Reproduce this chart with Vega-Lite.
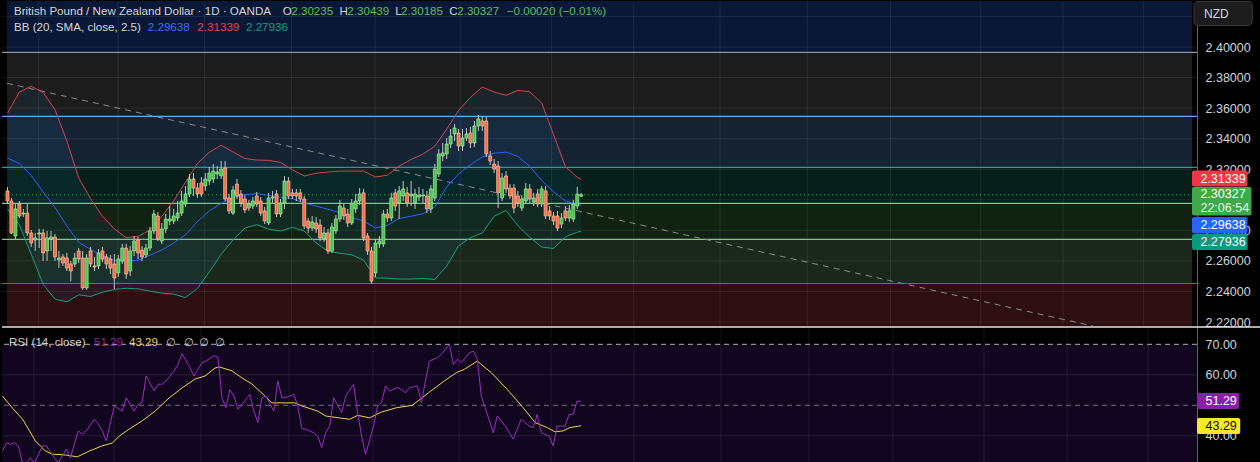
{
"$schema":"https://vega.github.io/schema/vega-lite/v6.json",
"background":"#000000",
"padding":0,
"spacing":0,
"bounds":"flush",
"config":{"view":{"stroke":null}},
"datasets":{
"zones":[{"zone":"z1","lo":2.39652,"hi":2.44},{"zone":"z2","lo":2.35464,"hi":2.39652},{"zone":"z3","lo":2.32126,"hi":2.35464},{"zone":"z4","lo":2.2977,"hi":2.32126},{"zone":"z5","lo":2.27413,"hi":2.2977},{"zone":"z6","lo":2.2452,"hi":2.27413},{"zone":"z7","lo":2.2174,"hi":2.2452}],
"zlines":[{"name":"l1","v":2.39652},{"name":"l2","v":2.35464},{"name":"l3","v":2.32126},{"name":"l4","v":2.2977},{"name":"l5","v":2.27413},{"name":"l6","v":2.2452}],
"vgrid":[{"i":7.89},{"i":27.95},{"i":49.75},{"i":71.8},{"i":92.86},{"i":114.41},{"i":137.47},{"i":158.27},{"i":180.08},{"i":202.13},{"i":223.18},{"i":245.99},{"i":266.79},{"i":287.09}],
"hgrid":[{"v":2.22},{"v":2.24},{"v":2.26},{"v":2.28},{"v":2.30},{"v":2.32},{"v":2.34},{"v":2.36},{"v":2.38},{"v":2.40},{"v":2.42}],
"rgrid":[{"v":40},{"v":60}],
"trend":[{"i":-0.125,"v":2.37623},{"i":274.3,"v":2.21739}],
"candles":[
{"i":0,"o":2.3058,"h":2.3084,"l":2.2972,"c":2.2992},
{"i":1,"o":2.2992,"h":2.3012,"l":2.2776,"c":2.2783},
{"i":2,"o":2.2763,"h":2.2972,"l":2.2743,"c":2.2940},
{"i":3,"o":2.2972,"h":2.2992,"l":2.2881,"c":2.2894},
{"i":4,"o":2.2907,"h":2.2940,"l":2.2887,"c":2.2913},
{"i":5,"o":2.2913,"h":2.2972,"l":2.2763,"c":2.2783},
{"i":6,"o":2.2783,"h":2.2802,"l":2.2691,"c":2.2717},
{"i":7,"o":2.2737,"h":2.2783,"l":2.2665,"c":2.2750},
{"i":8,"o":2.2776,"h":2.2809,"l":2.2684,"c":2.2783},
{"i":9,"o":2.2783,"h":2.2809,"l":2.2599,"c":2.2652},
{"i":10,"o":2.2665,"h":2.2796,"l":2.2599,"c":2.2750},
{"i":11,"o":2.2743,"h":2.2796,"l":2.2665,"c":2.2756},
{"i":12,"o":2.2756,"h":2.2776,"l":2.2599,"c":2.2626},
{"i":13,"o":2.2606,"h":2.2665,"l":2.2553,"c":2.2619},
{"i":14,"o":2.2626,"h":2.2645,"l":2.2567,"c":2.2586},
{"i":15,"o":2.2619,"h":2.2652,"l":2.2534,"c":2.2553},
{"i":16,"o":2.2580,"h":2.2599,"l":2.2468,"c":2.2534},
{"i":17,"o":2.2580,"h":2.2652,"l":2.2560,"c":2.2619},
{"i":18,"o":2.2665,"h":2.2684,"l":2.2586,"c":2.2612},
{"i":19,"o":2.2619,"h":2.2665,"l":2.2410,"c":2.2423},
{"i":20,"o":2.2423,"h":2.2645,"l":2.2410,"c":2.2619},
{"i":21,"o":2.2665,"h":2.2691,"l":2.2560,"c":2.2580},
{"i":22,"o":2.2567,"h":2.2626,"l":2.2534,"c":2.2560},
{"i":23,"o":2.2567,"h":2.2678,"l":2.2547,"c":2.2652},
{"i":24,"o":2.2665,"h":2.2691,"l":2.2593,"c":2.2612},
{"i":25,"o":2.2626,"h":2.2645,"l":2.2547,"c":2.2580},
{"i":26,"o":2.2612,"h":2.2639,"l":2.2514,"c":2.2553},
{"i":27,"o":2.2580,"h":2.2645,"l":2.2416,"c":2.2488},
{"i":28,"o":2.2521,"h":2.2639,"l":2.2495,"c":2.2612},
{"i":29,"o":2.2599,"h":2.2711,"l":2.2580,"c":2.2684},
{"i":30,"o":2.2684,"h":2.2711,"l":2.2482,"c":2.2514},
{"i":31,"o":2.2534,"h":2.2697,"l":2.2501,"c":2.2665},
{"i":32,"o":2.2665,"h":2.2763,"l":2.2632,"c":2.2730},
{"i":33,"o":2.2737,"h":2.2756,"l":2.2612,"c":2.2652},
{"i":34,"o":2.2671,"h":2.2697,"l":2.2599,"c":2.2626},
{"i":35,"o":2.2639,"h":2.2711,"l":2.2619,"c":2.2684},
{"i":36,"o":2.2684,"h":2.2822,"l":2.2665,"c":2.2796},
{"i":37,"o":2.2796,"h":2.2933,"l":2.2776,"c":2.2907},
{"i":38,"o":2.2894,"h":2.2920,"l":2.2730,"c":2.2743},
{"i":39,"o":2.2730,"h":2.2848,"l":2.2711,"c":2.2809},
{"i":40,"o":2.2809,"h":2.2907,"l":2.2783,"c":2.2874},
{"i":41,"o":2.2861,"h":2.2959,"l":2.2835,"c":2.2874},
{"i":42,"o":2.2861,"h":2.2940,"l":2.2841,"c":2.2894},
{"i":43,"o":2.2881,"h":2.2992,"l":2.2861,"c":2.2913},
{"i":44,"o":2.2913,"h":2.3058,"l":2.2894,"c":2.2992},
{"i":45,"o":2.2972,"h":2.3090,"l":2.2953,"c":2.3038},
{"i":46,"o":2.3038,"h":2.3169,"l":2.3018,"c":2.3136},
{"i":47,"o":2.3136,"h":2.3175,"l":2.3025,"c":2.3077},
{"i":48,"o":2.3077,"h":2.3110,"l":2.3012,"c":2.3038},
{"i":49,"o":2.3110,"h":2.3149,"l":2.3018,"c":2.3038},
{"i":50,"o":2.3090,"h":2.3175,"l":2.3058,"c":2.3136},
{"i":51,"o":2.3123,"h":2.3215,"l":2.3097,"c":2.3175},
{"i":52,"o":2.3136,"h":2.3234,"l":2.3110,"c":2.3188},
{"i":53,"o":2.3169,"h":2.3221,"l":2.3136,"c":2.3182},
{"i":54,"o":2.3156,"h":2.3254,"l":2.3136,"c":2.3201},
{"i":55,"o":2.3208,"h":2.3254,"l":2.2992,"c":2.3005},
{"i":56,"o":2.3012,"h":2.3038,"l":2.2907,"c":2.2927},
{"i":57,"o":2.2913,"h":2.3090,"l":2.2900,"c":2.3064},
{"i":58,"o":2.3103,"h":2.3136,"l":2.3005,"c":2.3025},
{"i":59,"o":2.3038,"h":2.3064,"l":2.2953,"c":2.2979},
{"i":60,"o":2.3005,"h":2.3031,"l":2.2913,"c":2.2933},
{"i":61,"o":2.2946,"h":2.2999,"l":2.2927,"c":2.2972},
{"i":62,"o":2.2959,"h":2.3018,"l":2.2940,"c":2.2992},
{"i":63,"o":2.3025,"h":2.3051,"l":2.2953,"c":2.2972},
{"i":64,"o":2.2992,"h":2.3018,"l":2.2894,"c":2.2913},
{"i":65,"o":2.2927,"h":2.2953,"l":2.2841,"c":2.2861},
{"i":66,"o":2.2848,"h":2.3045,"l":2.2835,"c":2.3012},
{"i":67,"o":2.3012,"h":2.3058,"l":2.2979,"c":2.3018},
{"i":68,"o":2.3038,"h":2.3064,"l":2.2887,"c":2.2907},
{"i":69,"o":2.2907,"h":2.3005,"l":2.2887,"c":2.2979},
{"i":70,"o":2.2979,"h":2.3156,"l":2.2940,"c":2.3123},
{"i":71,"o":2.3123,"h":2.3149,"l":2.3005,"c":2.3025},
{"i":72,"o":2.3045,"h":2.3071,"l":2.3005,"c":2.3025},
{"i":73,"o":2.3045,"h":2.3071,"l":2.2992,"c":2.3025},
{"i":74,"o":2.3045,"h":2.3071,"l":2.2985,"c":2.3005},
{"i":75,"o":2.3005,"h":2.3025,"l":2.2809,"c":2.2828},
{"i":76,"o":2.2861,"h":2.2881,"l":2.2783,"c":2.2815},
{"i":77,"o":2.2815,"h":2.2894,"l":2.2796,"c":2.2855},
{"i":78,"o":2.2848,"h":2.2887,"l":2.2783,"c":2.2809},
{"i":79,"o":2.2835,"h":2.2874,"l":2.2730,"c":2.2750},
{"i":80,"o":2.2743,"h":2.2822,"l":2.2724,"c":2.2783},
{"i":81,"o":2.2783,"h":2.2809,"l":2.2645,"c":2.2665},
{"i":82,"o":2.2665,"h":2.2848,"l":2.2652,"c":2.2822},
{"i":83,"o":2.2796,"h":2.2900,"l":2.2776,"c":2.2874},
{"i":84,"o":2.2874,"h":2.2999,"l":2.2855,"c":2.2959},
{"i":85,"o":2.2946,"h":2.2972,"l":2.2868,"c":2.2894},
{"i":86,"o":2.2907,"h":2.2940,"l":2.2822,"c":2.2848},
{"i":87,"o":2.2848,"h":2.3005,"l":2.2835,"c":2.2972},
{"i":88,"o":2.2940,"h":2.3038,"l":2.2913,"c":2.2992},
{"i":89,"o":2.2992,"h":2.3077,"l":2.2966,"c":2.3038},
{"i":90,"o":2.3045,"h":2.3071,"l":2.2730,"c":2.2750},
{"i":91,"o":2.2763,"h":2.2783,"l":2.2639,"c":2.2665},
{"i":92,"o":2.2665,"h":2.2691,"l":2.2449,"c":2.2468},
{"i":93,"o":2.2521,"h":2.2743,"l":2.2495,"c":2.2717},
{"i":94,"o":2.2711,"h":2.2763,"l":2.2684,"c":2.2730},
{"i":95,"o":2.2711,"h":2.2933,"l":2.2691,"c":2.2907},
{"i":96,"o":2.2907,"h":2.2940,"l":2.2855,"c":2.2881},
{"i":97,"o":2.2881,"h":2.3045,"l":2.2861,"c":2.3012},
{"i":98,"o":2.3045,"h":2.3071,"l":2.2927,"c":2.2959},
{"i":99,"o":2.2979,"h":2.3090,"l":2.2874,"c":2.3058},
{"i":100,"o":2.3025,"h":2.3123,"l":2.2992,"c":2.3071},
{"i":101,"o":2.3045,"h":2.3084,"l":2.2953,"c":2.2979},
{"i":102,"o":2.3025,"h":2.3123,"l":2.2959,"c":2.3038},
{"i":103,"o":2.2979,"h":2.3071,"l":2.2940,"c":2.3038},
{"i":104,"o":2.3018,"h":2.3084,"l":2.2992,"c":2.3031},
{"i":105,"o":2.3025,"h":2.3071,"l":2.2979,"c":2.3031},
{"i":106,"o":2.3025,"h":2.3058,"l":2.2913,"c":2.2940},
{"i":107,"o":2.2940,"h":2.3097,"l":2.2913,"c":2.3071},
{"i":108,"o":2.3012,"h":2.3234,"l":2.2992,"c":2.3201},
{"i":109,"o":2.3169,"h":2.3332,"l":2.3149,"c":2.3300},
{"i":110,"o":2.3287,"h":2.3372,"l":2.3254,"c":2.3306},
{"i":111,"o":2.3300,"h":2.3404,"l":2.3267,"c":2.3365},
{"i":112,"o":2.3365,"h":2.3463,"l":2.3339,"c":2.3417},
{"i":113,"o":2.3431,"h":2.3496,"l":2.3385,"c":2.3470},
{"i":114,"o":2.3437,"h":2.3463,"l":2.3319,"c":2.3352},
{"i":115,"o":2.3352,"h":2.3463,"l":2.3319,"c":2.3404},
{"i":116,"o":2.3404,"h":2.3470,"l":2.3385,"c":2.3431},
{"i":117,"o":2.3437,"h":2.3476,"l":2.3339,"c":2.3372},
{"i":118,"o":2.3372,"h":2.3516,"l":2.3345,"c":2.3483},
{"i":119,"o":2.3483,"h":2.3555,"l":2.3450,"c":2.3529},
{"i":120,"o":2.3516,"h":2.3548,"l":2.3450,"c":2.3483},
{"i":121,"o":2.3516,"h":2.3542,"l":2.3280,"c":2.3300},
{"i":122,"o":2.3287,"h":2.3319,"l":2.3228,"c":2.3254},
{"i":123,"o":2.3234,"h":2.3267,"l":2.3175,"c":2.3201},
{"i":124,"o":2.3221,"h":2.3254,"l":2.2946,"c":2.3045},
{"i":125,"o":2.3012,"h":2.3175,"l":2.2992,"c":2.3143},
{"i":126,"o":2.3156,"h":2.3188,"l":2.3045,"c":2.3071},
{"i":127,"o":2.3077,"h":2.3103,"l":2.3005,"c":2.3025},
{"i":128,"o":2.3077,"h":2.3103,"l":2.2913,"c":2.2946},
{"i":129,"o":2.3025,"h":2.3058,"l":2.2953,"c":2.2979},
{"i":130,"o":2.2946,"h":2.3031,"l":2.2927,"c":2.3005},
{"i":131,"o":2.2992,"h":2.3110,"l":2.2972,"c":2.3071},
{"i":132,"o":2.3071,"h":2.3103,"l":2.2979,"c":2.3005},
{"i":133,"o":2.2985,"h":2.3045,"l":2.2959,"c":2.3012},
{"i":134,"o":2.3038,"h":2.3071,"l":2.2953,"c":2.2972},
{"i":135,"o":2.2972,"h":2.3090,"l":2.2953,"c":2.3071},
{"i":136,"o":2.3058,"h":2.3090,"l":2.2874,"c":2.2894},
{"i":137,"o":2.2927,"h":2.2959,"l":2.2868,"c":2.2894},
{"i":138,"o":2.2894,"h":2.2920,"l":2.2835,"c":2.2861},
{"i":139,"o":2.2894,"h":2.2927,"l":2.2796,"c":2.2815},
{"i":140,"o":2.2841,"h":2.2913,"l":2.2815,"c":2.2881},
{"i":141,"o":2.2927,"h":2.2959,"l":2.2861,"c":2.2881},
{"i":142,"o":2.2881,"h":2.2966,"l":2.2855,"c":2.2927},
{"i":143,"o":2.2874,"h":2.2999,"l":2.2855,"c":2.2972},
{"i":144,"o":2.2959,"h":2.3084,"l":2.2940,"c":2.3038},
{"i":145,"o":2.30235,"h":2.30439,"l":2.30185,"c":2.30327}
],
"bb":[
{"i":0,"up":2.3568,"mid":2.3273,"lo":2.2940},
{"i":3,"up":2.3705,"mid":2.3237,"lo":2.2835},
{"i":6,"up":2.3743,"mid":2.3160,"lo":2.2644},
{"i":9,"up":2.3702,"mid":2.3051,"lo":2.2447},
{"i":12,"up":2.3590,"mid":2.2950,"lo":2.2350},
{"i":15,"up":2.3385,"mid":2.2829,"lo":2.2332},
{"i":18,"up":2.3143,"mid":2.2722,"lo":2.2378},
{"i":21,"up":2.3007,"mid":2.2676,"lo":2.2367},
{"i":24,"up":2.2892,"mid":2.2633,"lo":2.2395},
{"i":27,"up":2.2810,"mid":2.2603,"lo":2.2413},
{"i":30,"up":2.2752,"mid":2.2599,"lo":2.2421},
{"i":33,"up":2.2761,"mid":2.2605,"lo":2.2417},
{"i":36,"up":2.2802,"mid":2.2637,"lo":2.2402},
{"i":39,"up":2.2890,"mid":2.2672,"lo":2.2389},
{"i":42,"up":2.2993,"mid":2.2716,"lo":2.2382},
{"i":45,"up":2.3116,"mid":2.2771,"lo":2.2360},
{"i":48,"up":2.3238,"mid":2.2857,"lo":2.2420},
{"i":51,"up":2.3311,"mid":2.2927,"lo":2.2528},
{"i":54,"up":2.3357,"mid":2.2976,"lo":2.2643},
{"i":57,"up":2.3313,"mid":2.3014,"lo":2.2737},
{"i":60,"up":2.3270,"mid":2.3033,"lo":2.2815},
{"i":63,"up":2.3260,"mid":2.3041,"lo":2.2837},
{"i":66,"up":2.3258,"mid":2.3029,"lo":2.2807},
{"i":69,"up":2.3245,"mid":2.3016,"lo":2.2796},
{"i":72,"up":2.3196,"mid":2.3008,"lo":2.2819},
{"i":75,"up":2.3156,"mid":2.2979,"lo":2.2796},
{"i":78,"up":2.3174,"mid":2.2959,"lo":2.2718},
{"i":81,"up":2.3182,"mid":2.2938,"lo":2.2663},
{"i":84,"up":2.3188,"mid":2.2915,"lo":2.2650},
{"i":87,"up":2.3188,"mid":2.2884,"lo":2.2640},
{"i":90,"up":2.3188,"mid":2.2861,"lo":2.2605},
{"i":93,"up":2.3149,"mid":2.2815,"lo":2.2488},
{"i":96,"up":2.3161,"mid":2.2833,"lo":2.2487},
{"i":99,"up":2.3221,"mid":2.2878,"lo":2.2481},
{"i":102,"up":2.3264,"mid":2.2892,"lo":2.2481},
{"i":105,"up":2.3299,"mid":2.2909,"lo":2.2485},
{"i":108,"up":2.3351,"mid":2.2954,"lo":2.2478},
{"i":111,"up":2.3462,"mid":2.3084,"lo":2.2566},
{"i":114,"up":2.3585,"mid":2.3168,"lo":2.2698},
{"i":117,"up":2.3670,"mid":2.3229,"lo":2.2752},
{"i":120,"up":2.3738,"mid":2.3281,"lo":2.2783},
{"i":123,"up":2.3705,"mid":2.3305,"lo":2.2892},
{"i":126,"up":2.3684,"mid":2.3312,"lo":2.2930},
{"i":129,"up":2.3716,"mid":2.3284,"lo":2.2830},
{"i":132,"up":2.3707,"mid":2.3219,"lo":2.2755},
{"i":135,"up":2.3634,"mid":2.3127,"lo":2.2691},
{"i":138,"up":2.3428,"mid":2.3053,"lo":2.2681},
{"i":141,"up":2.3217,"mid":2.2993,"lo":2.2757},
{"i":144,"up":2.3147,"mid":2.2969,"lo":2.2788},
{"i":145,"up":2.31339,"mid":2.29638,"lo":2.27936}
],
"rsi":[
{"i":0,"v":35.0},{"i":1,"v":37.7},{"i":2,"v":37.2},{"i":3,"v":37.7},{"i":4,"v":36.7},{"i":5,"v":31.2},{"i":6,"v":31.2},{"i":7,"v":32.8},{"i":8,"v":31.0},{"i":10,"v":36.7},{"i":11,"v":36.7},{"i":13,"v":32.8},{"i":14,"v":31.2},{"i":16,"v":35.6},{"i":17,"v":32.8},{"i":19,"v":41.6},{"i":20,"v":40.5},{"i":21,"v":41.6},{"i":23,"v":45.4},{"i":24,"v":43.8},{"i":25,"v":41.6},{"i":26,"v":38.3},{"i":28,"v":49.8},{"i":30,"v":48.1},{"i":31,"v":52.5},{"i":33,"v":48.1},{"i":34,"v":50.3},{"i":35,"v":50.9},{"i":36,"v":59.6},{"i":38,"v":54.7},{"i":39,"v":56.9},{"i":40,"v":56.9},{"i":41,"v":58.0},{"i":43,"v":61.2},{"i":44,"v":63.4},{"i":45,"v":66.9},{"i":47,"v":62.3},{"i":48,"v":59.6},{"i":50,"v":64.0},{"i":51,"v":64.5},{"i":53,"v":66.2},{"i":54,"v":65.8},{"i":55,"v":52.5},{"i":56,"v":49.2},{"i":57,"v":55.2},{"i":58,"v":53.0},{"i":59,"v":48.7},{"i":60,"v":50.3},{"i":62,"v":53.6},{"i":63,"v":48.1},{"i":64,"v":44.3},{"i":65,"v":52.5},{"i":66,"v":53.0},{"i":68,"v":48.1},{"i":69,"v":58.0},{"i":70,"v":52.5},{"i":71,"v":52.5},{"i":73,"v":53.6},{"i":74,"v":49.8},{"i":75,"v":42.5},{"i":76,"v":42.1},{"i":78,"v":41.0},{"i":79,"v":39.9},{"i":80,"v":36.1},{"i":81,"v":41.0},{"i":82,"v":43.2},{"i":83,"v":52.5},{"i":85,"v":47.6},{"i":86,"v":53.0},{"i":88,"v":56.9},{"i":89,"v":47.6},{"i":90,"v":39.9},{"i":91,"v":33.9},{"i":93,"v":43.2},{"i":94,"v":49.8},{"i":95,"v":50.9},{"i":96,"v":56.3},{"i":97,"v":54.7},{"i":99,"v":55.8},{"i":100,"v":55.2},{"i":101,"v":54.1},{"i":102,"v":55.8},{"i":104,"v":56.3},{"i":105,"v":50.9},{"i":106,"v":58.0},{"i":107,"v":64.5},{"i":109,"v":65.6},{"i":110,"v":66.7},{"i":112,"v":70.0},{"i":113,"v":63.4},{"i":114,"v":65.1},{"i":115,"v":64.0},{"i":117,"v":67.2},{"i":118,"v":67.8},{"i":119,"v":65.1},{"i":120,"v":53.0},{"i":121,"v":49.2},{"i":123,"v":41.0},{"i":124,"v":46.5},{"i":126,"v":43.2},{"i":128,"v":38.9},{"i":130,"v":45.4},{"i":132,"v":43.2},{"i":133,"v":42.7},{"i":134,"v":47.0},{"i":135,"v":41.0},{"i":137,"v":39.9},{"i":138,"v":36.7},{"i":139,"v":43.2},{"i":141,"v":43.2},{"i":142,"v":47.0},{"i":143,"v":47.0},{"i":144,"v":51.4},{"i":145,"v":51.29}
],
"rsima":[
{"i":0,"v":53.05},{"i":2.5,"v":49.1},{"i":5,"v":45.5},{"i":8.25,"v":38.3},{"i":10.75,"v":35.0},{"i":12.5,"v":34.0},{"i":15.75,"v":33.7},{"i":18.75,"v":33.1},{"i":21.75,"v":35.0},{"i":25,"v":36.7},{"i":27.5,"v":37.6},{"i":29.25,"v":39.9},{"i":31.75,"v":42.2},{"i":35,"v":44.9},{"i":38.25,"v":48.1},{"i":41.75,"v":52.4},{"i":45,"v":55.7},{"i":48.25,"v":58.6},{"i":50.75,"v":59.6},{"i":53.25,"v":62.2},{"i":54.25,"v":62.6},{"i":57.5,"v":61.3},{"i":60,"v":59.0},{"i":62.5,"v":57.0},{"i":65,"v":54.0},{"i":67.5,"v":50.8},{"i":70.75,"v":50.8},{"i":73.25,"v":50.8},{"i":75,"v":49.8},{"i":79,"v":48.1},{"i":81,"v":46.5},{"i":87,"v":45.4},{"i":89,"v":46.7},{"i":92,"v":45.9},{"i":95,"v":47.8},{"i":98.75,"v":49.2},{"i":102.75,"v":50.0},{"i":106.75,"v":54.1},{"i":110.75,"v":58.0},{"i":113.75,"v":60.7},{"i":115.75,"v":61.8},{"i":119,"v":64.5},{"i":122.5,"v":60.7},{"i":126.5,"v":55.2},{"i":130.5,"v":49.2},{"i":133.5,"v":44.3},{"i":136.5,"v":42.7},{"i":138.5,"v":41.3},{"i":140.5,"v":41.6},{"i":142.25,"v":42.7},{"i":145,"v":43.29}
]
},
"vconcat":[
{
"width":1195,"height":326,
"layer":[
{"data":{"name":"zones"},"mark":{"type":"rect","clip":true},
 "encoding":{
  "x":{"datum":-0.125,"type":"quantitative","scale":{"domain":[-0.125,299.37],"nice":false,"zero":false},"axis":null},
  "x2":{"datum":299.37},
  "y":{"field":"lo","type":"quantitative","scale":{"domain":[2.21673,2.43011],"nice":false,"zero":false},
   "axis":{"orient":"right","values":[2.22,2.24,2.26,2.28,2.32,2.34,2.36,2.38,2.4],"format":".5f","title":null,"grid":false,"ticks":false,"domain":true,"domainColor":"#5d606b","labelColor":"#d1d4dc","labelFont":"Liberation Sans","labelFontSize":12.5,"labelPadding":8,"labelOverlap":false,"labelBound":false,"minExtent":65,"maxExtent":65,"zindex":0}},
  "y2":{"field":"hi"},
  "fill":{"field":"zone","type":"nominal","scale":{"domain":["z1","z2","z3","z4","z5","z6","z7"],"range":["#0a1837","#1c1c1c","#162333","#071f1a","#122212","#1a281b","#2d0e11"]},"legend":null}}},
{"data":{"name":"hgrid"},"mark":{"type":"rule","stroke":"#ffffff","strokeOpacity":0.08,"strokeWidth":1},"encoding":{"y":{"field":"v","type":"quantitative"}}},
{"data":{"name":"vgrid"},"mark":{"type":"rule","stroke":"#ffffff","strokeOpacity":0.08,"strokeWidth":1},"encoding":{"x":{"field":"i","type":"quantitative"}}},
{"data":{"name":"zlines"},"mark":{"type":"rule","strokeWidth":1.2},"encoding":{"y":{"field":"v","type":"quantitative"},"stroke":{"field":"name","type":"nominal","scale":{"domain":["l1","l2","l3","l4","l5","l6"],"range":["#8f939c","#6aaae8","#2a9d8f","#86c98a","#86c98a","#e0393e"]},"legend":null}}},
{"data":{"name":"bb"},"mark":{"type":"area","color":"#2196f3","opacity":0.07},"encoding":{"x":{"field":"i","type":"quantitative"},"y":{"field":"up","type":"quantitative"},"y2":{"field":"lo"}}},
{"data":{"name":"trend"},"mark":{"type":"line","color":"#8a8a8a","strokeWidth":1,"strokeDash":[6,5],"clip":true},"encoding":{"x":{"field":"i","type":"quantitative"},"y":{"field":"v","type":"quantitative"}}},
{"data":{"values":[{}]},"mark":{"type":"rule","color":"#4caf50","strokeWidth":1,"strokeDash":[1,3]},"encoding":{"y":{"datum":2.30327}}},
{"data":{"name":"bb"},"mark":{"type":"line","color":"#d8434f","strokeWidth":1},"encoding":{"x":{"field":"i","type":"quantitative"},"y":{"field":"up","type":"quantitative"}}},
{"data":{"name":"bb"},"mark":{"type":"line","color":"#2962ff","strokeWidth":1},"encoding":{"x":{"field":"i","type":"quantitative"},"y":{"field":"mid","type":"quantitative"}}},
{"data":{"name":"bb"},"mark":{"type":"line","color":"#1b9e80","strokeWidth":1},"encoding":{"x":{"field":"i","type":"quantitative"},"y":{"field":"lo","type":"quantitative"}}},
{"data":{"name":"candles"},"mark":{"type":"rule","color":"#c4c4c4","strokeWidth":1},"encoding":{"x":{"field":"i","type":"quantitative"},"y":{"field":"l","type":"quantitative"},"y2":{"field":"h"}}},
{"data":{"name":"candles"},"mark":{"type":"bar","size":3,"strokeWidth":0.7},"encoding":{"x":{"field":"i","type":"quantitative"},"y":{"field":"o","type":"quantitative"},"y2":{"field":"c"},
 "fill":{"condition":{"test":"datum.c >= datum.o","value":"#4cc44c"},"value":"#f5704a"},
 "stroke":{"condition":{"test":"datum.c >= datum.o","value":"#a8eca8"},"value":"#ffc0a0"}}},
{"data":{"values":[{}]},"mark":{"type":"text","align":"left","baseline":"middle","font":"Liberation Sans","fontSize":11.6,"color":"#d6d6d6"},"encoding":{"x":{"datum":1.63},"y":{"datum":2.42323},"text":{"value":"British Pound / New Zealand Dollar · 1D · OANDA"}}},
{"data":{"values":[{}]},"mark":{"type":"text","align":"left","baseline":"middle","font":"Liberation Sans","fontSize":11.6,"color":"#d6d6d6"},"encoding":{"x":{"datum":69.55},"y":{"datum":2.42323},"text":{"value":"O"}}},
{"data":{"values":[{}]},"mark":{"type":"text","align":"left","baseline":"middle","font":"Liberation Sans","fontSize":11.6,"color":"#5cbf62"},"encoding":{"x":{"datum":71.73},"y":{"datum":2.42323},"text":{"value":"2.30235"}}},
{"data":{"values":[{}]},"mark":{"type":"text","align":"left","baseline":"middle","font":"Liberation Sans","fontSize":11.6,"color":"#d6d6d6"},"encoding":{"x":{"datum":83.91},"y":{"datum":2.42323},"text":{"value":"H"}}},
{"data":{"values":[{}]},"mark":{"type":"text","align":"left","baseline":"middle","font":"Liberation Sans","fontSize":11.6,"color":"#5cbf62"},"encoding":{"x":{"datum":85.89},"y":{"datum":2.42323},"text":{"value":"2.30439"}}},
{"data":{"values":[{}]},"mark":{"type":"text","align":"left","baseline":"middle","font":"Liberation Sans","fontSize":11.6,"color":"#d6d6d6"},"encoding":{"x":{"datum":98.0},"y":{"datum":2.42323},"text":{"value":"L"}}},
{"data":{"values":[{}]},"mark":{"type":"text","align":"left","baseline":"middle","font":"Liberation Sans","fontSize":11.6,"color":"#5cbf62"},"encoding":{"x":{"datum":99.47},"y":{"datum":2.42323},"text":{"value":"2.30185"}}},
{"data":{"values":[{}]},"mark":{"type":"text","align":"left","baseline":"middle","font":"Liberation Sans","fontSize":11.6,"color":"#d6d6d6"},"encoding":{"x":{"datum":111.65},"y":{"datum":2.42323},"text":{"value":"C"}}},
{"data":{"values":[{}]},"mark":{"type":"text","align":"left","baseline":"middle","font":"Liberation Sans","fontSize":11.6,"color":"#5cbf62"},"encoding":{"x":{"datum":113.66},"y":{"datum":2.42323},"text":{"value":"2.30327"}}},
{"data":{"values":[{}]},"mark":{"type":"text","align":"left","baseline":"middle","font":"Liberation Sans","fontSize":11.6,"color":"#5cbf62"},"encoding":{"x":{"datum":126.19},"y":{"datum":2.42323},"text":{"value":"−0.00020 (−0.01%)"}}},
{"data":{"values":[{}]},"mark":{"type":"text","align":"left","baseline":"middle","font":"Liberation Sans","fontSize":11.6,"color":"#d6d6d6"},"encoding":{"x":{"datum":1.63},"y":{"datum":2.41276},"text":{"value":"BB (20, SMA, close, 2.5)"}}},
{"data":{"values":[{}]},"mark":{"type":"text","align":"left","baseline":"middle","font":"Liberation Sans","fontSize":11.6,"color":"#3d6cff"},"encoding":{"x":{"datum":35.46},"y":{"datum":2.41276},"text":{"value":"2.29638"}}},
{"data":{"values":[{}]},"mark":{"type":"text","align":"left","baseline":"middle","font":"Liberation Sans","fontSize":11.6,"color":"#e8404c"},"encoding":{"x":{"datum":47.99},"y":{"datum":2.41276},"text":{"value":"2.31339"}}},
{"data":{"values":[{}]},"mark":{"type":"text","align":"left","baseline":"middle","font":"Liberation Sans","fontSize":11.6,"color":"#139e86"},"encoding":{"x":{"datum":60.28},"y":{"datum":2.41276},"text":{"value":"2.27936"}}},
{"data":{"values":[{}]},"mark":{"type":"rect","fill":"#1c1c1c","stroke":"#3a3a3a","strokeWidth":1,"cornerRadius":4},"encoding":{"x":{"datum":299.87},"x2":{"datum":314.6},"y":{"datum":2.42977},"y2":{"datum":2.41407}}},
{"data":{"values":[{}]},"mark":{"type":"text","align":"left","baseline":"middle","font":"Liberation Sans","fontSize":12,"color":"#d1d4dc"},"encoding":{"x":{"datum":302.4},"y":{"datum":2.42192},"text":{"value":"NZD"}}},
{"data":{"values":[{}]},"mark":{"type":"rect","fill":"#f23645","cornerRadius":2},"encoding":{"x":{"datum":299.37},"x2":{"datum":313.4},"y":{"datum":2.3192},"y2":{"datum":2.3087}}},
{"data":{"values":[{}]},"mark":{"type":"rect","fill":"#3fa84a","cornerRadius":2},"encoding":{"x":{"datum":299.37},"x2":{"datum":314.4},"y":{"datum":2.3084},"y2":{"datum":2.2897}}},
{"data":{"values":[{}]},"mark":{"type":"rect","fill":"#2962ff","cornerRadius":2},"encoding":{"x":{"datum":299.37},"x2":{"datum":313.4},"y":{"datum":2.2887},"y2":{"datum":2.2779}}},
{"data":{"values":[{}]},"mark":{"type":"rect","fill":"#089981","cornerRadius":2},"encoding":{"x":{"datum":299.37},"x2":{"datum":313.4},"y":{"datum":2.2776},"y2":{"datum":2.2671}}},
{"data":{"values":[{}]},"mark":{"type":"text","align":"left","baseline":"middle","font":"Liberation Sans","fontSize":12.5,"color":"#ffffff"},"encoding":{"x":{"datum":301.5},"y":{"datum":2.3139},"text":{"value":"2.31339"}}},
{"data":{"values":[{}]},"mark":{"type":"text","align":"left","baseline":"middle","font":"Liberation Sans","fontSize":12.5,"color":"#ffffff"},"encoding":{"x":{"datum":301.5},"y":{"datum":2.3038},"text":{"value":"2.30327"}}},
{"data":{"values":[{}]},"mark":{"type":"text","align":"left","baseline":"middle","font":"Liberation Sans","fontSize":12.5,"color":"#e6f5e6"},"encoding":{"x":{"datum":301.5},"y":{"datum":2.2943},"text":{"value":"22:06:54"}}},
{"data":{"values":[{}]},"mark":{"type":"text","align":"left","baseline":"middle","font":"Liberation Sans","fontSize":12.5,"color":"#ffffff"},"encoding":{"x":{"datum":301.5},"y":{"datum":2.2835},"text":{"value":"2.29638"}}},
{"data":{"values":[{}]},"mark":{"type":"text","align":"left","baseline":"middle","font":"Liberation Sans","fontSize":12.5,"color":"#ffffff"},"encoding":{"x":{"datum":301.5},"y":{"datum":2.2724},"text":{"value":"2.27936"}}}
]
},
{
"width":1195,"height":136,
"layer":[
{"data":{"values":[{}]},"mark":{"type":"rect","fill":"#110520","clip":true},
 "encoding":{
  "x":{"datum":-0.125,"type":"quantitative","scale":{"domain":[-0.125,299.37],"nice":false,"zero":false},"axis":null},
  "x2":{"datum":299.37},
  "y":{"datum":70,"type":"quantitative","scale":{"domain":[31.08,75.67],"nice":false,"zero":false},
   "axis":{"orient":"right","values":[40,60,70],"format":".2f","title":null,"grid":false,"ticks":false,"domain":true,"domainColor":"#5d606b","labelColor":"#d1d4dc","labelFont":"Liberation Sans","labelFontSize":12.5,"labelPadding":8,"labelOverlap":false,"labelBound":false,"minExtent":65,"maxExtent":65,"zindex":0}},
  "y2":{"datum":25}}},
{"data":{"name":"vgrid"},"mark":{"type":"rule","stroke":"#ffffff","strokeOpacity":0.08,"strokeWidth":1},"encoding":{"x":{"field":"i","type":"quantitative"}}},
{"data":{"name":"rgrid"},"mark":{"type":"rule","stroke":"#ffffff","strokeOpacity":0.1,"strokeWidth":1},"encoding":{"y":{"field":"v","type":"quantitative"}}},
{"data":{"values":[{}]},"mark":{"type":"rule","stroke":"#d0d0d0","strokeOpacity":0.85,"strokeWidth":1,"strokeDash":[5,4]},"encoding":{"y":{"datum":70}}},
{"data":{"values":[{}]},"mark":{"type":"rule","stroke":"#8a8594","strokeOpacity":0.8,"strokeWidth":1,"strokeDash":[5,4]},"encoding":{"y":{"datum":50}}},
{"data":{"name":"rsima"},"mark":{"type":"line","color":"#f0d648","strokeWidth":1},"encoding":{"x":{"field":"i","type":"quantitative"},"y":{"field":"v","type":"quantitative"}}},
{"data":{"name":"rsi"},"mark":{"type":"line","color":"#9a2fc0","strokeWidth":1,"clip":true},"encoding":{"x":{"field":"i","type":"quantitative"},"y":{"field":"v","type":"quantitative"}}},
{"data":{"values":[{}]},"mark":{"type":"text","align":"left","baseline":"middle","font":"Liberation Sans","fontSize":11.6,"color":"#d6d6d6"},"encoding":{"x":{"datum":1.63},"y":{"datum":70.5},"text":{"value":"RSI (14, close)"}}},
{"data":{"values":[{}]},"mark":{"type":"text","align":"left","baseline":"middle","font":"Liberation Sans","fontSize":11.6,"color":"#8e24aa"},"encoding":{"x":{"datum":22.93},"y":{"datum":70.5},"text":{"value":"51.29"}}},
{"data":{"values":[{}]},"mark":{"type":"text","align":"left","baseline":"middle","font":"Liberation Sans","fontSize":11.6,"color":"#f0d648"},"encoding":{"x":{"datum":31.7},"y":{"datum":70.5},"text":{"value":"43.29"}}},
{"data":{"values":[{}]},"mark":{"type":"text","align":"left","baseline":"middle","font":"DejaVu Sans","fontSize":11,"color":"#d6d6d6"},"encoding":{"x":{"datum":40.98},"y":{"datum":70.5},"text":{"value":"∅"}}},
{"data":{"values":[{}]},"mark":{"type":"text","align":"left","baseline":"middle","font":"DejaVu Sans","fontSize":11,"color":"#d6d6d6"},"encoding":{"x":{"datum":45.49},"y":{"datum":70.5},"text":{"value":"∅"}}},
{"data":{"values":[{}]},"mark":{"type":"text","align":"left","baseline":"middle","font":"DejaVu Sans","fontSize":11,"color":"#d6d6d6"},"encoding":{"x":{"datum":49.25},"y":{"datum":70.5},"text":{"value":"∅"}}},
{"data":{"values":[{}]},"mark":{"type":"text","align":"left","baseline":"middle","font":"DejaVu Sans","fontSize":11,"color":"#d6d6d6"},"encoding":{"x":{"datum":53.26},"y":{"datum":70.5},"text":{"value":"∅"}}},
{"data":{"values":[{}]},"mark":{"type":"rect","fill":"#8a1fa5","cornerRadius":2},"encoding":{"x":{"datum":299.37},"x2":{"datum":309.9},"y":{"datum":54.03},"y2":{"datum":48.79}}},
{"data":{"values":[{}]},"mark":{"type":"rect","fill":"#f7e733","cornerRadius":2},"encoding":{"x":{"datum":299.37},"x2":{"datum":310.2},"y":{"datum":45.84},"y2":{"datum":40.59}}},
{"data":{"values":[{}]},"mark":{"type":"text","align":"left","baseline":"middle","font":"Liberation Sans","fontSize":12.5,"color":"#ffffff"},"encoding":{"x":{"datum":301.5},"y":{"datum":51.29},"text":{"value":"51.29"}}},
{"data":{"values":[{}]},"mark":{"type":"text","align":"left","baseline":"middle","font":"Liberation Sans","fontSize":12.5,"color":"#111111"},"encoding":{"x":{"datum":301.5},"y":{"datum":43.29},"text":{"value":"43.29"}}},
{"data":{"values":[{}]},"mark":{"type":"rule","stroke":"#e6e6e6","strokeWidth":1.5},"encoding":{"x":{"datum":-0.125},"x2":{"datum":315.8},"y":{"datum":75.67}}}
]
}
]
}
